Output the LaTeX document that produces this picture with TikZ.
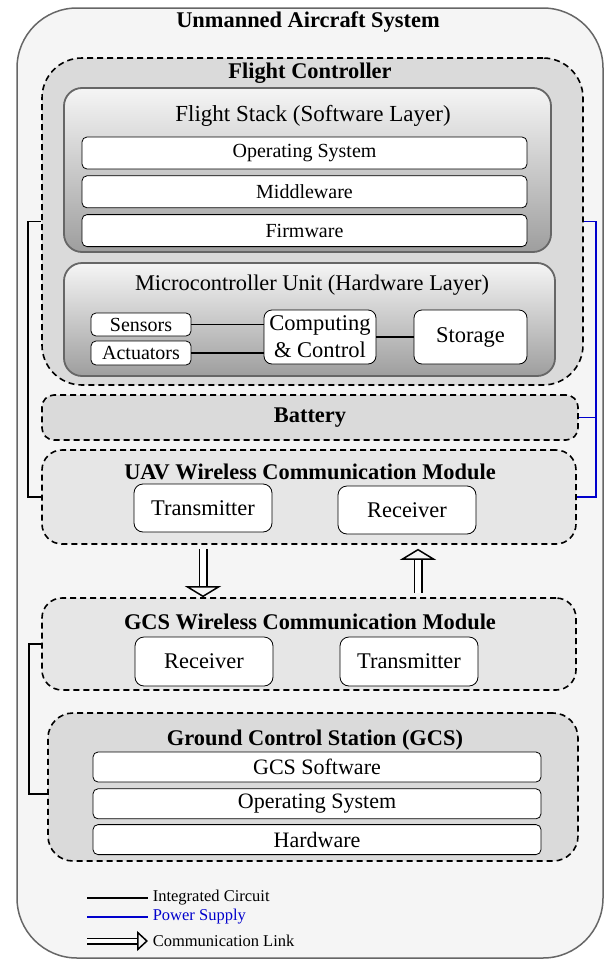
\documentclass[tikz,border=0pt]{standalone}
\usepackage{fontspec}
\setmainfont{Liberation Serif}
\usetikzlibrary{positioning,arrows.meta}

\definecolor{uasgray}{RGB}{102,102,102}
\definecolor{uasbg}{RGB}{245,245,245}
\definecolor{fcfill}{RGB}{218,218,218}
\definecolor{cmfill}{RGB}{230,230,230}
\definecolor{layertop}{RGB}{245,245,245}
\definecolor{layerbot}{RGB}{158,158,158}
\definecolor{powerblue}{RGB}{0,0,204}

\tikzset{
  outerbox/.style={draw=uasgray, line width=1.5pt, fill=uasbg, rounded corners=60pt},
  groupbox/.style={draw, dash pattern=on 6pt off 4pt, line width=1.6pt},
  layerbox/.style={draw=uasgray, line width=1.8pt, top color=layertop, bottom color=layerbot, rounded corners=18pt},
  itembox/.style={draw, fill=white, line width=0.8pt, rounded corners=5pt, inner sep=0pt},
  titletext/.style={font=\fontsize{22.4}{25}\selectfont\bfseries, inner sep=0pt},
  layertext/.style={font=\fontsize{22.4}{25}\selectfont, inner sep=0pt},
  circuit/.style={line width=1.6pt},
  power/.style={line width=1.6pt, powerblue},
  commlink/.style={double=white, double distance=6pt, line width=1.5pt, -{Triangle[open, length=11pt, width=36pt]}},
}

\begin{document}
\begin{tikzpicture}[x=1pt,y=-1pt]
\useasboundingbox (0,0) rectangle (605,961);

% outer system
\node[outerbox, minimum width=586, minimum height=950] (uas) at (310,483) {};
\node[titletext] (uastitle) at (308,22) {Unmanned Aircraft System};

% flight controller
\node[groupbox, fill=fcfill, rounded corners=40pt, minimum width=541, minimum height=327] (fc) at (312.5,221.5) {};
\node[titletext] (fctitle) at (310,73) {Flight Controller};

\node[layerbox, minimum width=487, minimum height=164] (fs) at (307.5,170) {};
\node[layertext, font=\fontsize{23}{26}\selectfont] (fstitle) at (313,116) {Flight Stack (Software Layer)};
\tikzset{stackitem/.style={itembox, minimum width=445, minimum height=32, font=\fontsize{20}{22}\selectfont}}
\node[stackitem] (fsos) at (304.5,153) {Operating System};
\node[stackitem, below=6pt of fsos] (fsmw) {Middleware};
\node[stackitem, below=6pt of fsmw] (fsfw) {Firmware};

\node[layerbox, minimum width=491, minimum height=113] (mcu) at (309.5,319.5) {};
\node[layertext] (mcutitle) at (312,285) {Microcontroller Unit (Hardware Layer)};
\node[itembox, minimum width=100, minimum height=23, font=\fontsize{20}{22}\selectfont] (sensors) at (141,324.5) {Sensors};
\node[itembox, minimum width=100, minimum height=24, font=\fontsize{20}{22}\selectfont] (actuators) at (141,353) {Actuators};
\node[itembox, rounded corners=8pt, minimum width=112, minimum height=54, align=center, font=\fontsize{22.5}{27}\selectfont] (comp) at (320,337) {Computing\\\& Control};
\node[itembox, rounded corners=8pt, minimum width=113, minimum height=54, font=\fontsize{22.5}{25}\selectfont] (storage) at (470.5,337) {Storage};
\draw[circuit] (sensors.east) -- (comp.west |- sensors.east);
\draw[circuit] (actuators.east) -- (comp.west |- actuators.east);
\draw[circuit] (comp.east) -- (storage.west);

% battery
\node[groupbox, fill=fcfill, rounded corners=12pt, minimum width=536, minimum height=45] (battery) at (310,417.5) {};
\node[titletext] (battitle) at (310,418) {Battery};

% UAV wireless communication module
\node[groupbox, fill=cmfill, rounded corners=20pt, minimum width=534, minimum height=94] (uavcm) at (309,497) {};
\node[titletext] (uavtitle) at (310,472) {UAV Wireless Communication Module};
\tikzset{radiobox/.style={itembox, rounded corners=9pt, minimum width=138, minimum height=48, font=\fontsize{22.4}{25}\selectfont}}
\node[radiobox] (uavtx) at (203,508) {Transmitter};
\node[radiobox] (uavrx) at (407,510) {Receiver};

% GCS wireless communication module
\node[groupbox, fill=cmfill, rounded corners=20pt, minimum width=534, minimum height=92] (gcscm) at (309,644) {};
\node[titletext] (gcscmtitle) at (310,622) {GCS Wireless Communication Module};
\node[radiobox, minimum height=49] (gcsrx) at (204,661.5) {Receiver};
\node[radiobox, minimum height=49] (gcstx) at (409,661.5) {Transmitter};

% ground control station
\node[groupbox, fill=fcfill, rounded corners=25pt, minimum width=530, minimum height=148] (gcs) at (313,787) {};
\node[titletext] (gcstitle) at (315,740) {Ground Control Station (GCS)};
\tikzset{gcsitem/.style={itembox, minimum width=448, minimum height=30, font=\fontsize{22}{24}\selectfont}}
\node[gcsitem] (gcssw) at (317,767) {GCS Software};
\node[gcsitem, below=6pt of gcssw] (gcsos) {Operating System};
\node[gcsitem, below=5pt of gcsos] (gcshw) {Hardware};

% communication links
\coordinate (downstart) at ([yshift=-4pt]uavcm.south -| uavtx);
\coordinate (downend) at (gcscm.north -| uavtx);
\coordinate (upstart) at ([xshift=9pt,yshift=4pt]gcscm.north -| gcstx);
\coordinate (upend) at ([xshift=9pt,yshift=-4pt]uavcm.south -| gcstx);
\draw[commlink] (downstart) -- (downend);
\draw[commlink] (upstart) -- (upend);

% integrated circuit and power connectors
\draw[circuit] (fc.west) -- ++(-13,0) |- (uavcm.west);
\draw[circuit] (gcscm.west) -- ++(-12,0) |- ([yshift=-7pt]gcs.west);
\draw[power] (fc.east) -- ++(12,0) |- (uavcm.east);
\draw[power] (battery.east) -- (battery.east -| fc.east) -- ++(12,0);

% legend
\tikzset{legendtext/.style={anchor=west, inner sep=0pt, font=\fontsize{16.5}{18}\selectfont}}
\coordinate (legic) at (87,898);
\coordinate (legps) at (87,917);
\coordinate (legcl) at (87,941);
\draw[circuit] (legic) -- ++(61,0) node[legendtext, right=4pt of {(148,898)}] (legictext) {Integrated Circuit};
\draw[power] (legps) -- ++(61,0) node[legendtext, powerblue, right=4pt of {(148,917)}] (legpstext) {Power Supply};
\draw[commlink, double distance=4pt, -{Triangle[open, length=11pt, width=20pt]}] (legcl) -- ++(61,0) node[legendtext, right=4pt of {(148,941)}] (legcltext) {Communication Link};
\end{tikzpicture}
\end{document}
